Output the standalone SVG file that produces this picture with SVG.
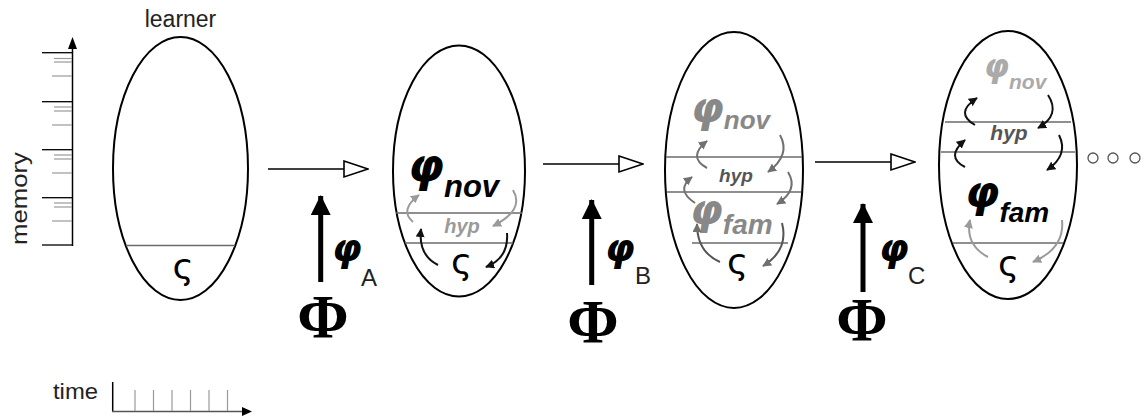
<svg xmlns="http://www.w3.org/2000/svg" width="1146" height="419" viewBox="0 0 1146 419">
<style>
.lbl{font-family:"Liberation Sans",Arial,sans-serif;fill:#222}
.egg{fill:none;stroke:#000;stroke-width:2}
.sep{stroke:#6a6a6a;stroke-width:1.6}
.bi{font-family:"Liberation Sans",Arial,sans-serif;font-weight:bold;font-style:italic}
.phi{font-family:"DejaVu Sans",sans-serif;font-weight:bold;font-style:italic}
.sig{font-family:"DejaVu Sans",sans-serif;font-size:36px;text-anchor:middle;fill:#000}
.big{font-family:"Liberation Serif","Times New Roman",serif;font-weight:bold;font-size:62px;text-anchor:middle;fill:#000}
.ca{fill:none;stroke-width:2}
</style>
<defs>
<marker id="hk" markerUnits="userSpaceOnUse" viewBox="0 0 10 10" refX="9" refY="5" markerWidth="9" markerHeight="9" orient="auto"><path d="M0,0 L10,5 L0,10 z" fill="#111"/></marker>
<marker id="hg" markerUnits="userSpaceOnUse" viewBox="0 0 10 10" refX="9" refY="5" markerWidth="9" markerHeight="9" orient="auto"><path d="M0,0 L10,5 L0,10 z" fill="#9a9a9a"/></marker>
<marker id="hd" markerUnits="userSpaceOnUse" viewBox="0 0 10 10" refX="9" refY="5" markerWidth="9" markerHeight="9" orient="auto"><path d="M0,0 L10,5 L0,10 z" fill="#707070"/></marker>
<marker id="open" markerUnits="userSpaceOnUse" viewBox="0 0 26 20" refX="25" refY="10" markerWidth="26" markerHeight="20" orient="auto"><path d="M1,2 L25,10 L1,18 z" fill="#fff" stroke="#000" stroke-width="1.6"/></marker>
<marker id="thick" markerUnits="userSpaceOnUse" viewBox="0 0 20 24" refX="19" refY="10" markerWidth="20" markerHeight="24" orient="auto"><path d="M0,0 L20,10 L0,20 z" fill="#000"/></marker>
</defs>

<g id="memory-axis">
<line x1="72.5" y1="246" x2="72.5" y2="46" stroke="#000" stroke-width="1.5"/>
<path d="M72.5,37 L77,49 L68,49 z" fill="#000"/>
<g stroke="#000" stroke-width="1.3">
<line x1="42" y1="52.7" x2="72" y2="52.7"/><line x1="42" y1="101.7" x2="72" y2="101.7"/><line x1="42" y1="149.7" x2="72" y2="149.7"/><line x1="42" y1="197.7" x2="72" y2="197.7"/><line x1="42" y1="245" x2="72" y2="245"/>
</g>
<g stroke="#999" stroke-width="1.2">
<line x1="54" y1="58.5" x2="72" y2="58.5"/><line x1="54" y1="62" x2="72" y2="62"/><line x1="52" y1="76" x2="72" y2="76"/>
<line x1="54" y1="107" x2="72" y2="107"/><line x1="54" y1="111" x2="72" y2="111"/><line x1="52" y1="125" x2="72" y2="125"/>
<line x1="54" y1="155" x2="72" y2="155"/><line x1="54" y1="159" x2="72" y2="159"/><line x1="52" y1="173" x2="72" y2="173"/>
<line x1="54" y1="203" x2="72" y2="203"/><line x1="54" y1="207" x2="72" y2="207"/><line x1="52" y1="221" x2="72" y2="221"/>
</g>
<text class="lbl" font-size="22" transform="translate(27,245) rotate(-90)" textLength="93" lengthAdjust="spacingAndGlyphs">memory</text>
</g>

<g id="time-axis">
<text class="lbl" x="53" y="399" font-size="22" textLength="45" lengthAdjust="spacingAndGlyphs">time</text>
<line x1="112.7" y1="382" x2="112.7" y2="411.5" stroke="#000" stroke-width="1.5"/>
<line x1="112" y1="411.5" x2="244" y2="411.5" stroke="#555" stroke-width="1.5"/>
<path d="M252,411.5 L242,407 L242,416 z" fill="#000"/>
<g stroke="#999" stroke-width="1.2">
<line x1="135" y1="390" x2="135" y2="411"/><line x1="153.5" y1="390" x2="153.5" y2="411"/><line x1="172" y1="390" x2="172" y2="411"/><line x1="190.5" y1="390" x2="190.5" y2="411"/><line x1="209" y1="390" x2="209" y2="411"/><line x1="227.5" y1="390" x2="227.5" y2="411"/>
</g>
</g>

<g id="learner-1">
<text class="lbl" x="180.5" y="27" font-size="23" text-anchor="middle">learner</text>
<ellipse class="egg" cx="180.5" cy="168.5" rx="67.5" ry="131.5"/>
<line class="sep" x1="126" y1="245.5" x2="235" y2="245.5"/>
<text class="sig" x="183" y="279">ς</text>
</g>

<g id="learner-2">
<ellipse class="egg" cx="459" cy="171" rx="66" ry="125.5"/>
<line class="sep" x1="396" y1="213" x2="522" y2="213"/>
<line class="sep" x1="405" y1="243" x2="513" y2="243"/>
<text fill="#000" x="408" y="181"><tspan class="phi" font-size="46">φ</tspan><tspan class="bi" font-size="31" dy="16">nov</tspan></text>
<text class="bi" fill="#9a9a9a" x="462" y="233" font-size="20" text-anchor="middle">hyp</text>
<text class="sig" x="461.5" y="274" font-size="33">ς</text>
<path class="ca" stroke="#9a9a9a" d="M413,222 Q399,210 419,195" marker-end="url(#hg)"/>
<path class="ca" stroke="#9a9a9a" d="M513,190 Q525,210 493,226" marker-end="url(#hg)"/>
<path class="ca" stroke="#111" d="M438,265 Q418,255 421,229" marker-end="url(#hk)"/>
<path class="ca" stroke="#111" d="M507,233 Q509,258 486,267" marker-end="url(#hk)"/>
</g>

<g id="learner-3">
<ellipse class="egg" cx="734" cy="170" rx="69" ry="138"/>
<line class="sep" x1="666" y1="157" x2="802" y2="157"/>
<line class="sep" x1="667" y1="192" x2="801" y2="192"/>
<line class="sep" x1="692" y1="243" x2="788" y2="243"/>
<text fill="#888" x="691" y="122"><tspan class="phi" font-size="42">φ</tspan><tspan class="bi" font-size="26" dy="7">nov</tspan></text>
<text class="bi" fill="#555" x="736" y="182" font-size="19" text-anchor="middle">hyp</text>
<text fill="#888" x="690" y="224"><tspan class="phi" font-size="42">φ</tspan><tspan class="bi" font-size="28" dy="10">fam</tspan></text>
<text class="sig" x="737.5" y="274" font-size="33">ς</text>
<path class="ca" stroke="#707070" d="M707,168 Q687,157 707,141" marker-end="url(#hd)"/>
<path class="ca" stroke="#707070" d="M780,135 Q791,155 768,172" marker-end="url(#hd)"/>
<path class="ca" stroke="#707070" d="M695,203 Q675,190 692,177" marker-end="url(#hd)"/>
<path class="ca" stroke="#707070" d="M788,172 Q799,190 777,204" marker-end="url(#hd)"/>
<path class="ca" stroke="#555" d="M720,262 Q697,252 697,224" marker-end="url(#hd)"/>
<path class="ca" stroke="#555" d="M782,223 Q789,250 763,266" marker-end="url(#hd)"/>
</g>

<g id="learner-4">
<ellipse class="egg" cx="1008" cy="165" rx="69" ry="134"/>
<line class="sep" x1="945" y1="122" x2="1071" y2="122"/>
<line class="sep" x1="941" y1="152" x2="1075" y2="152"/>
<line class="sep" x1="953" y1="243" x2="1063" y2="243"/>
<text fill="#aaa" x="984" y="77"><tspan class="phi" font-size="32">φ</tspan><tspan class="bi" font-size="21" dy="12">nov</tspan></text>
<text class="bi" fill="#555" x="1009" y="140" font-size="21" text-anchor="middle">hyp</text>
<text fill="#000" x="965" y="207"><tspan class="phi" font-size="44">φ</tspan><tspan class="bi" font-size="28" dy="15">fam</tspan></text>
<text class="sig" x="1008.5" y="276" font-size="33">ς</text>
<path class="ca" stroke="#111" d="M975,125 Q954,113 977,98" marker-end="url(#hk)"/>
<path class="ca" stroke="#111" d="M1048,95 Q1061,115 1038,128" marker-end="url(#hk)"/>
<path class="ca" stroke="#111" d="M965,167 Q945,157 965,140" marker-end="url(#hk)"/>
<path class="ca" stroke="#111" d="M1059,135 Q1069,155 1047,170" marker-end="url(#hk)"/>
<path class="ca" stroke="#9a9a9a" d="M988,257 Q965,245 970,220" marker-end="url(#hg)"/>
<path class="ca" stroke="#9a9a9a" d="M1062,220 Q1065,248 1033,262" marker-end="url(#hg)"/>
</g>

<g id="ellipsis">
<circle cx="1093" cy="158" r="5" fill="none" stroke="#555" stroke-width="1.3"/>
<circle cx="1113" cy="158" r="5" fill="none" stroke="#555" stroke-width="1.3"/>
<circle cx="1135" cy="158" r="5" fill="none" stroke="#555" stroke-width="1.3"/>
</g>

<g id="input-A">
<text class="big" x="323" y="337">Φ</text>
<text class="phi" fill="#000" x="332" y="261" font-size="38">φ</text>
<text class="lbl" fill="#000" x="361" y="286" font-size="24">A</text>
</g>
<g id="input-B">
<text class="big" x="593" y="342">Φ</text>
<text class="phi" fill="#000" x="605" y="261" font-size="38">φ</text>
<text class="lbl" fill="#000" x="635" y="284" font-size="24">B</text>
</g>
<g id="input-C">
<text class="big" x="862" y="340">Φ</text>
<text class="phi" fill="#000" x="879" y="261" font-size="38">φ</text>
<text class="lbl" fill="#000" x="908" y="284" font-size="24">C</text>
</g>

<g id="connectors">
<line x1="268" y1="169" x2="368" y2="169" stroke="#000" stroke-width="1.6" marker-end="url(#open)"/>
<line x1="543" y1="164" x2="643" y2="164" stroke="#000" stroke-width="1.6" marker-end="url(#open)"/>
<line x1="815" y1="162" x2="915" y2="162" stroke="#000" stroke-width="1.6" marker-end="url(#open)"/>
<line x1="320.7" y1="282" x2="320.7" y2="196" stroke="#000" stroke-width="5" marker-end="url(#thick)"/>
<line x1="591.7" y1="285" x2="591.7" y2="200" stroke="#000" stroke-width="5" marker-end="url(#thick)"/>
<line x1="863" y1="292" x2="863" y2="204" stroke="#000" stroke-width="5" marker-end="url(#thick)"/>
</g>
</svg>
